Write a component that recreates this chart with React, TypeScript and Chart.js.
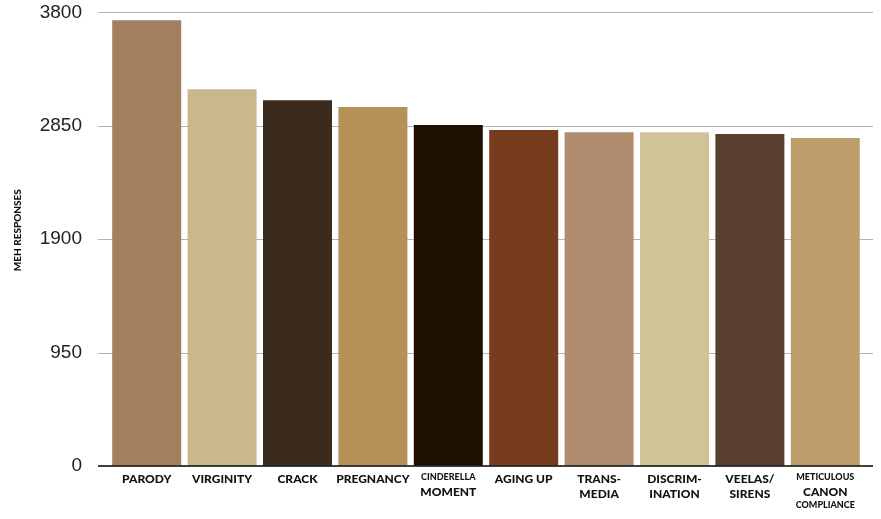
import React, { useEffect, useRef } from "react";
import { Chart, registerables } from "chart.js";

Chart.register(...registerables);

// chart values
const categories = [
  "PARODY",
  "VIRGINITY",
  "CRACK",
  "PREGNANCY",
  "CINDERELLA MOMENT",
  "AGING UP",
  "TRANS-MEDIA",
  "DISCRIM-INATION",
  "VEELAS/SIRENS",
  "METICULOUS CANON COMPLIANCE",
];
const tickLabelLines = [
  ["PARODY"],
  ["VIRGINITY"],
  ["CRACK"],
  ["PREGNANCY"],
  ["CINDERELLA", "MOMENT"],
  ["AGING UP"],
  ["TRANS-", "MEDIA"],
  ["DISCRIM-", "INATION"],
  ["VEELAS/", "SIRENS"],
  ["METICULOUS", "CANON", "COMPLIANCE"],
];
const mehResponses = [3735, 3157, 3065, 3007, 2856, 2814, 2797, 2796, 2781, 2747];
const yTicks = [0, 950, 1900, 2850, 3800];

// styling
const barColors = [
  "#a27f5e",
  "#c9b98a",
  "#3d2a1e",
  "#b39158",
  "#1e0f03",
  "#773b1d",
  "#b08d6e",
  "#cfc397",
  "#583f2e",
  "#bd9e6a",
];
const smallWords = new Set(["CINDERELLA", "METICULOUS", "COMPLIANCE"]);

const App: React.FC = () => {
  const canvasRef = useRef<HTMLCanvasElement | null>(null);

  useEffect(() => {
    if (!canvasRef.current) return;
    const ctx = canvasRef.current.getContext("2d");
    if (!ctx) return;

    const chart = new Chart(ctx, {
      type: "bar",
      data: {
        labels: categories,
        datasets: [
          {
            label: "Meh responses",
            data: mehResponses,
            backgroundColor: barColors,
            borderWidth: 0,
            barPercentage: 0.915,
            categoryPercentage: 1,
          },
        ],
      },
      options: {
        animation: false,
        responsive: true,
        maintainAspectRatio: false,
        layout: { padding: { top: 12, right: 18, left: 0, bottom: 0 } },
        plugins: {
          legend: { display: false },
          tooltip: { enabled: false },
        },
        scales: {
          x: {
            grid: { display: false, drawTicks: false },
            border: { display: false },
            ticks: { display: false },
            afterFit: (scale) => {
              scale.height = 53;
            },
          },
          y: {
            min: 0,
            max: 3800,
            afterBuildTicks: (scale) => {
              scale.ticks = yTicks.map((v) => ({ value: v }));
            },
            grid: { color: "transparent", drawTicks: true, tickLength: 26 },
            border: { display: false },
            ticks: {
              padding: 1,
              color: "#222",
              font: { family: "'Liberation Sans', Arial, sans-serif", size: 19 },
              callback: (v) => String(v),
            },
            afterFit: (scale) => {
              scale.width = 109;
            },
          },
        },
      },
      plugins: [
        {
          id: "gridAndLabels",
          beforeDatasetsDraw: (c) => {
            const { ctx, chartArea, scales } = c;
            const y = scales.y;
            ctx.save();
            ctx.strokeStyle = "#b3b3b3";
            ctx.lineWidth = 1;
            yTicks.forEach((v) => {
              if (v === 0) return;
              const py = Math.round(y.getPixelForValue(v)) + 0.5;
              ctx.beginPath();
              ctx.moveTo(chartArea.left - 11, py);
              ctx.lineTo(chartArea.right + 10, py);
              ctx.stroke();
            });
            ctx.restore();
          },
          afterDatasetsDraw: (c) => {
            const { ctx, chartArea, scales } = c;
            const x = scales.x;
            const y = scales.y;
            ctx.save();
            // zero line
            const py0 = y.getPixelForValue(0);
            ctx.strokeStyle = "#000";
            ctx.lineWidth = 1.5;
            ctx.beginPath();
            ctx.moveTo(chartArea.left - 11, py0);
            ctx.lineTo(chartArea.right + 10, py0);
            ctx.stroke();

            // category labels
            ctx.fillStyle = "#111";
            ctx.textAlign = "center";
            ctx.textBaseline = "alphabetic";
            tickLabelLines.forEach((lines, i) => {
              const cx = x.getPixelForValue(i);
              let base = chartArea.bottom + 8;
              lines.forEach((line, j) => {
                const size = smallWords.has(line) ? 9 : 12;
                base += j === 0 ? size * 0.72 : size * 1.3;
                ctx.font = `900 ${size}px Lato, sans-serif`;
                ctx.fillText(line, cx, base);
              });
            });

            // y axis title
            ctx.translate(18, (chartArea.top + chartArea.bottom) / 2 - 9);
            ctx.rotate(-Math.PI / 2);
            ctx.textBaseline = "middle";
            ctx.font = "900 10px Lato, sans-serif";
            ctx.fillText("MEH RESPONSES", 0, 0);
            ctx.restore();
          },
        },
      ],
    });

    return () => {
      chart.destroy();
    };
  }, []);

  return (
    <div style={{ position: "absolute", left: 0, top: 0, width: 881, height: 519, background: "#fff" }}>
      <canvas ref={canvasRef}></canvas>
    </div>
  );
};

export default App;
